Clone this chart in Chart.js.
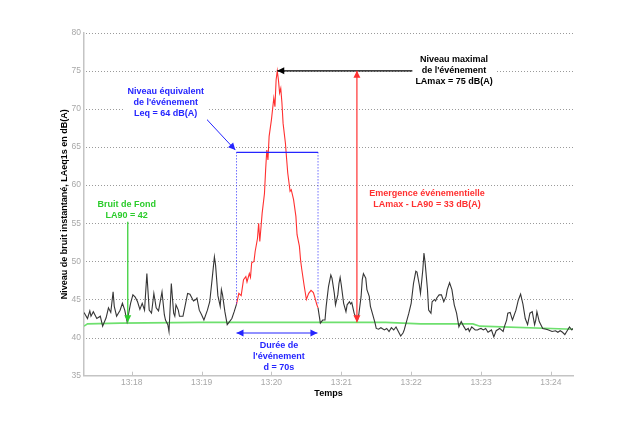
<!DOCTYPE html>
<html>
<head>
<meta charset="utf-8">
<script src="https://cdn.jsdelivr.net/npm/chart.js@4.4.0/dist/chart.umd.min.js"></script>
<style>
body { margin: 0; background: #fff; }
#wrap { width: 634px; height: 423px; }
</style>
</head>
<body>
<div id="wrap"><canvas id="chart" width="634" height="423"></canvas></div>
<script>
// temps en secondes depuis 13:17:00
var secs = [19,22,24,25,27,30,33,35,38,40,42,44,45,47,50,52,54,56,59,61,63,65,67,69,71,73,75,77,79,81,83,86,88,89,91,92,94,96,97,98,100,101,104,106,108,110,113,115,116,118,120,122,125,127,129,131,132,134,136,137,138,140,142,144,146,148,
	150,152,154,156,158,159,161,162,163,165,166,168,169,170,172,174,175,176,177,178,180,182,183,184,185,186,187,188,189,190,192,193,194,196,197,199,201,202,204,205,206,208,210,212,214,216,217,219,220,
	222,224,226,227,229,231,232,234,235,237,238,239,240,242,244,245,247,248,249,251,252,254,255,257,258,259,261,262,264,265,267,269,270,272,274,277,279,281,283,285,287,289,291,293,294,296,298,300,302,304,305,307,308,310,311,312,314,315,317,318,320,321,322,324,326,328,330,331,333,335,337,339,341,343,345,347,349,350,352,355,357,358,360,362,364,366,369,371,373,376,379,380,382,383,385,387,390,392,394,396,398,400,402,404,406,407,408,410,413,416,418,421,424,426,428,430,432,434,436,438,439];
// LAeq 1s en dB(A)
var laeq = [43.3,42.5,43.5,42.8,43.4,42.5,42.8,41.5,42.6,43.9,43.3,46,44.1,42.8,43.6,44.5,43.6,42.1,44.5,45.6,45.3,44.7,43.7,44.5,43.6,48.4,43.6,43.2,45.8,43.9,43.5,46,43,42.3,41.7,40.8,47.1,43.2,42.8,44.3,43.6,42.8,42.8,44.3,45.8,45.7,44.8,45,45.2,43.6,43,42.3,43.6,44.7,47.6,50.6,49.5,45.5,44.1,46.3,45.6,43.4,41.7,42.1,42.5,43.4,
	44.4,45.8,45.5,47.6,48,47.3,48.4,47.9,49.8,50,51.3,53,55,52.6,56.3,58.9,62,64.6,63.3,66.4,68.6,71.4,70.3,73.8,75,73.8,72.1,72.7,70.8,68.1,65.5,63.5,61.6,59.2,59.4,58.1,55.9,53.5,52,50.2,49,46.9,45,45.8,46.2,45.9,45.4,44.3,43.9,
	41.9,42.3,42.3,44.1,46.7,48.2,47.8,45.8,44.3,45.6,47.1,47.9,46.9,44.5,43.4,44.3,44.7,44.4,44.6,43.2,42.8,42.3,43,45.4,47.6,48.4,47.8,46.3,45.4,44.1,43,41.9,41.2,41.1,41.3,41,41.2,40.8,41.3,41,41.4,40.8,40.2,40.6,41,42.1,43.2,44.5,47.1,48.7,48.6,46.9,45.8,48.9,51.1,49.8,46.3,43.6,43.2,44.7,45,44.8,45.2,45.6,45.6,44.7,45.4,46.3,47.2,46.3,44.3,43.2,41.4,42.1,41.5,41,41.2,40.8,41.4,41,41,41.1,41.2,41,41.2,40.7,41,40.1,40.9,41.2,40.8,41.4,42.3,43.2,43.3,42.3,43.6,44.9,45.7,44.4,42.5,41.7,43.2,43.4,41.7,42.3,43.4,42.1,41.2,41.1,41,40.8,40.9,40.7,40.9,40.7,40.4,40.9,41.4,41,41.2];
// LA90 glissant
var la90Secs = [19,22,50,118,278,308,353,359,439];
var la90 = [41.5,41.8,41.9,42,42,41.8,41.8,41.5,41.1];

var tickSecs = [60,120,180,240,300,360,420];
var tickLabels = ['13:18','13:19','13:20','13:21','13:22','13:23','13:24'];

var evDebut = 150, evFin = 220;
var leq = 64.3, laMax = 75, fond = 42, finEv = 44.4;

var texteFond = ['Bruit de Fond', 'LA90 = 42'];
var texteLeq = ['Niveau équivalent', "de l'événement", 'Leq = 64 dB(A)'];
var texteMax = ['Niveau maximal', "de l'événement", 'LAmax = 75 dB(A)'];
var texteEmerg = ['Emergence événementielle', 'LAmax - LA90 = 33 dB(A)'];
var texteDuree = ['Durée de', "l'événement", 'd = 70s'];

var gris = '#a8a8a8', axe = '#c4c4c4', rouge = '#ff3030', vert = '#2ccc2c', bleu = '#2525ff';
var police = '"Liberation Sans", Arial, sans-serif';

function pointe(ctx, x1, y1, x2, y2, col) {
	var a = Math.atan2(y2 - y1, x2 - x1), l = 7, w = 3.5;
	ctx.fillStyle = col;
	ctx.beginPath();
	ctx.moveTo(x2, y2);
	ctx.lineTo(x2 - l * Math.cos(a) + w * Math.sin(a), y2 - l * Math.sin(a) - w * Math.cos(a));
	ctx.lineTo(x2 - l * Math.cos(a) - w * Math.sin(a), y2 - l * Math.sin(a) + w * Math.cos(a));
	ctx.closePath();
	ctx.fill();
}

function trait(ctx, x1, y1, x2, y2, col, larg, tirets) {
	ctx.save();
	ctx.strokeStyle = col;
	ctx.lineWidth = larg;
	ctx.setLineDash(tirets || []);
	ctx.beginPath();
	ctx.moveTo(x1, y1);
	ctx.lineTo(x2, y2);
	ctx.stroke();
	ctx.restore();
}

function bloc(ctx, lignes, x, y, col, fondBlanc) {
	var lh = 11;
	ctx.font = 'bold 9px ' + police;
	ctx.textAlign = 'center';
	ctx.textBaseline = 'middle';
	if (fondBlanc) {
		var w = 0;
		for (var i = 0; i < lignes.length; i++) w = Math.max(w, ctx.measureText(lignes[i]).width);
		ctx.fillStyle = '#fff';
		ctx.fillRect(x - w / 2 - 3, y - lh / 2 - 1, w + 6, lh * lignes.length + 2);
	}
	ctx.fillStyle = col;
	for (var j = 0; j < lignes.length; j++) ctx.fillText(lignes[j], x, y + j * lh);
}

// grille horizontale en pointilles
var grille = {
	id: 'grille',
	beforeDatasetsDraw: function(chart) {
		var ctx = chart.ctx, xs = chart.scales.x, ys = chart.scales.y;
		ys.ticks.forEach(function(t) {
			if (t.value <= ys.min) return;
			var py = Math.round(ys.getPixelForValue(t.value)) + 0.5;
			trait(ctx, xs.left + 2, py, xs.right, py, '#9a9a9a', 1, [1, 2]);
		});
	}
};

var annotations = {
	id: 'annotations',
	afterDatasetsDraw: function(chart) {
		var ctx = chart.ctx, xs = chart.scales.x, ys = chart.scales.y;
		var X = function(v) { return xs.getPixelForValue(v); };
		var Y = function(v) { return ys.getPixelForValue(v); };
		ctx.save();

		// graduations x vers l'interieur
		for (var i = 0; i < tickSecs.length; i++) {
			var px = Math.round(X(tickSecs[i])) + 0.5;
			trait(ctx, px, ys.bottom, px, ys.bottom - 4, axe, 1);
		}

		// Leq : rectangle de l'evenement
		trait(ctx, X(evDebut), Y(leq), X(evFin), Y(leq), bleu, 1.2);
		trait(ctx, X(evDebut), Y(leq), X(evDebut), Y(finEv), bleu, 1, [1, 2]);
		trait(ctx, X(evFin), Y(leq), X(evFin), Y(finEv), bleu, 1, [1, 2]);
		trait(ctx, X(124), Y(68.7), X(149), Y(64.6), bleu, 1);
		pointe(ctx, X(124), Y(68.7), X(149), Y(64.6), bleu);
		bloc(ctx, texteLeq, X(89.2), Y(72.25), bleu, true);

		// duree
		var yd = Y(40.6);
		trait(ctx, X(evDebut), yd, X(evFin - 0.5), yd, bleu, 1.2);
		pointe(ctx, X(evFin), yd, X(evDebut), yd, bleu);
		pointe(ctx, X(evDebut), yd, X(evFin - 0.5), yd, bleu);
		bloc(ctx, texteDuree, X(186.4), Y(38.95), bleu, false);

		// LAmax
		trait(ctx, X(185), Y(laMax), X(305), Y(laMax), '#000', 1.2);
		pointe(ctx, X(305), Y(laMax), X(185), Y(laMax), '#000');
		bloc(ctx, texteMax, X(336.8), Y(76.5), '#000', true);

		// emergence
		var xe = X(253.4);
		trait(ctx, xe, Y(fond), xe, Y(laMax), rouge, 1.2);
		pointe(ctx, xe, Y(fond), xe, Y(laMax), rouge);
		pointe(ctx, xe, Y(laMax), xe, Y(fond), rouge);
		bloc(ctx, texteEmerg, X(313.6), Y(58.95), rouge, false);

		// bruit de fond
		var xf = X(56.6);
		trait(ctx, xf, Y(55.2), xf, Y(fond), vert, 1.2);
		pointe(ctx, xf, Y(55.2), xf, Y(fond), vert);
		bloc(ctx, texteFond, X(55.7), Y(57.4), vert, false);

		ctx.restore();
	}
};

Chart.defaults.font.family = police;

var ctx = document.getElementById('chart');
var chart = new Chart(ctx, {
	type: 'line',
	data: {
		datasets: [
			{
				label: 'LAeq1s',
				data: secs.map(function(t, i) { return {x: t, y: laeq[i]}; }),
				borderColor: '#353535',
				borderWidth: 1.1,
				pointRadius: 0,
				tension: 0,
				segment: {
					borderColor: function(c) {
						return (c.p0.parsed.x >= evDebut && c.p1.parsed.x <= evFin) ? rouge : undefined;
					}
				}
			},
			{
				label: 'LA90',
				data: la90Secs.map(function(t, i) { return {x: t, y: la90[i]}; }),
				borderColor: '#6ee06e',
				borderWidth: 1.6,
				pointRadius: 0,
				tension: 0
			}
		]
	},
	options: {
		responsive: false,
		animation: false,
		events: [],
		layout: { padding: { left: 0, right: 61, top: 32.7, bottom: 0 } },
		plugins: { legend: { display: false }, tooltip: { enabled: false } },
		scales: {
			x: {
				type: 'linear',
				min: 19,
				max: 439,
				afterBuildTicks: function(s) {
					s.ticks = tickSecs.map(function(v) { return {value: v}; });
				},
				afterFit: function(s) { s.height = 47.3; },
				ticks: {
					autoSkip: false,
					maxRotation: 0,
					color: gris,
					padding: 2,
					font: { size: 8.5 },
					callback: function(v) {
						var i = tickSecs.indexOf(v);
						return i >= 0 ? tickLabels[i] : '';
					}
				},
				grid: { display: false, drawTicks: false },
				border: { color: axe, width: 1.5 },
				title: {
					display: true,
					text: 'Temps',
					color: '#000',
					font: { size: 9, weight: 'bold' },
					padding: { top: 0, bottom: 24.3 }
				}
			},
			y: {
				min: 35,
				max: 80,
				afterFit: function(s) { s.width = 84; },
				ticks: {
					stepSize: 5,
					color: gris,
					padding: 3,
					font: { size: 8.5 }
				},
				grid: { display: false, drawTicks: false },
				border: { color: axe, width: 1.5 },
				title: {
					display: true,
					text: 'Niveau de bruit instantané, LAeq1s en dB(A)',
					color: '#000',
					font: { size: 9, weight: 'bold' },
					padding: { top: 59.6, bottom: 0 }
				}
			}
		}
	},
	plugins: [grille, annotations]
});
</script>
</body>
</html>
